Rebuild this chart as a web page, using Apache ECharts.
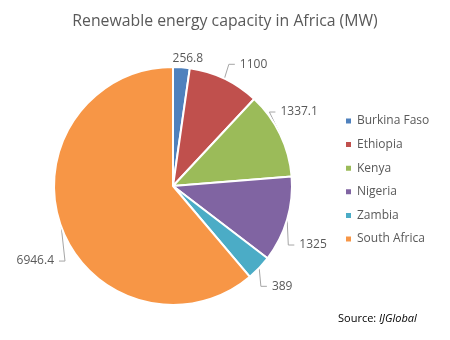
<!DOCTYPE html>
<html>
<head>
<meta charset="utf-8">
<script src="https://cdn.jsdelivr.net/npm/echarts@6/dist/echarts.min.js"></script>
<style>html,body{margin:0;padding:0;background:#fff}#c{width:450px;height:340px}</style>
</head>
<body>
<div id="c"></div>
<script>
const categories = ['Burkina Faso', 'Ethiopia', 'Kenya', 'Nigeria', 'Zambia', 'South Africa'];
const values = [256.8, 1100, 1337.1, 1325, 389, 6946.4];
const colors = ['#4F81BD', '#C0504D', '#9BBB59', '#8064A2', '#4BACC6', '#F79646'];
const titleText = 'Renewable energy capacity in Africa (MW)';
const labelShift = [[-14, -8], [-2, -16], [-14, -17], [-6, 22], [-7, 10], [15, 30]];

const chart = echarts.init(document.getElementById('c'), null, {renderer: 'canvas'});
const font = '"Open Sans", sans-serif';
const data = categories.map((n, i) => {
  const d = {name: n, value: values[i], itemStyle: {color: colors[i]}};
  if (i === 0) d.labelLine = {show: false, length: 1, length2: 0};
  return d;
});
chart.setOption({
  animation: false,
  backgroundColor: '#fff',
  title: [{
    text: titleText,
    left: 'center',
    top: 8,
    textStyle: {fontFamily: font, fontSize: 15.8, fontWeight: 'normal', color: '#595959'}
  }, {
    text: '{a|Source: }{b|IJGlobal}',
    left: 333,
    top: 308,
    textStyle: {
      fontFamily: font, fontSize: 11, color: '#000', fontWeight: 'normal',
      rich: {
        a: {fontFamily: font, fontSize: 11, color: '#000', fontWeight: 'normal'},
        b: {fontFamily: font, fontSize: 11, color: '#000', fontWeight: 'normal', fontStyle: 'italic'}
      }
    }
  }],
  legend: {
    orient: 'vertical',
    left: 339,
    top: 110,
    itemWidth: 7,
    itemHeight: 7,
    itemGap: 11.6,
    icon: 'rect',
    textStyle: {fontFamily: font, fontSize: 12, color: '#595959'},
    data: categories
  },
  series: [{
    type: 'pie',
    center: [173, 186],
    radius: 119,
    startAngle: 90,
    clockwise: true,
    itemStyle: {borderColor: '#fff', borderWidth: 2},
    label: {
      show: true,
      position: 'outside',
      formatter: '{c}',
      fontFamily: font,
      fontSize: 12,
      color: '#595959',
      overflow: 'none'
    },
    labelLine: {show: true, length: 12, length2: 6, lineStyle: {color: '#A6A6A6', width: 1}},
    labelLayout: function (p) {
      const s = labelShift[p.dataIndex];
      const out = {dx: s[0], dy: s[1], hideOverlap: false};
      if (p.labelLinePoints) {
        const pts = p.labelLinePoints;
        out.labelLinePoints = [
          [pts[0][0], pts[0][1]],
          [pts[1][0] + s[0], pts[1][1] + s[1]],
          [pts[2][0] + s[0], pts[2][1] + s[1]]
        ];
      }
      return out;
    },
    data: data
  }]
});
</script>
</body>
</html>
